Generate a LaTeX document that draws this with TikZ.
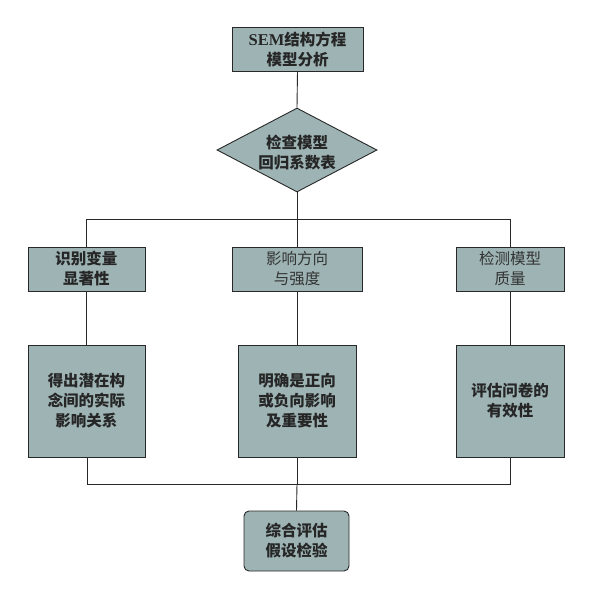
\documentclass[tikz,border=0pt]{standalone}
\usepackage{fontspec}
\setmainfont{Liberation Serif}
\newfontfamily\cjk{Noto Sans CJK SC}
\usetikzlibrary{shapes.geometric}
\definecolor{boxfill}{RGB}{158,180,180}
\definecolor{linec}{RGB}{40,40,40}
\tikzset{
  base/.style={draw=linec, line width=0.9pt, fill=boxfill, inner sep=0pt, align=center,
    font=\fontsize{15.5}{20}\selectfont\cjk\bfseries, text=black!85},
  rbox/.style={base, rectangle},
  thinfont/.style={font=\fontsize{15.5}{20}\selectfont\cjk, text=black!80},
  conn/.style={draw=linec, line width=0.9pt},
}
\begin{document}
\begin{tikzpicture}[x=1pt,y=-1pt]
\useasboundingbox (0,0) rectangle (591,598);
% top
\node[rbox, minimum width=131pt, minimum height=44pt] (top) at (297.5,49) {{\rmfamily\bfseries\fontsize{16.5}{20}\selectfont SEM}结构方程\\模型分析};
% diamond
\node[base, diamond, minimum width=160pt, minimum height=84pt] (dia) at (297,150) {};
\node[align=center, font=\fontsize{15.5}{20}\selectfont\cjk\bfseries, text=black!85] (diat) at (297,153) {检查模型\\回归系数表};
% level 2
\node[rbox, minimum width=117pt, minimum height=44pt] (a1) at (86.5,269) {识别变量\\显著性};
\node[rbox, thinfont, minimum width=130pt, minimum height=44pt] (b1) at (297,269) {影响方向\\与强度};
\node[rbox, thinfont, minimum width=108pt, minimum height=44pt] (c1) at (510,269) {检测模型\\质量};
% level 3
\node[rbox, minimum width=117pt, minimum height=112pt] (a2) at (86.5,401) {得出潜在构\\念间的实际\\影响关系};
\node[rbox, minimum width=118pt, minimum height=112pt] (b2) at (297,401) {明确是正向\\或负向影响\\及重要性};
\node[rbox, minimum width=108pt, minimum height=112pt] (c2) at (510,401) {评估问卷的\\有效性};
% bottom
\node[rbox, rounded corners=5pt, minimum width=105pt, minimum height=60pt] (fin) at (296.5,541) {综合评估\\假设检验};
% junctions
\coordinate (jt) at (297,219);
\coordinate (jtl) at (86,219);
\coordinate (jtr) at (510,219);
\coordinate (jb) at (297,484);
\coordinate (jbl) at (87,484);
\coordinate (jbr) at (510,484);
% connectors
\draw[conn] (top.south) -- (dia.north);
\draw[conn] (dia.south) -- (jt);
\draw[conn] (jtl) -- (jtr);
\draw[conn] (jtl) -- (jtl |- a1.north);
\draw[conn] (jt) -- (b1.north);
\draw[conn] (jtr) -- (jtr |- c1.north);
\draw[conn] (a1.south) -- (a2.north);
\draw[conn] (b1.south) -- (b2.north);
\draw[conn] (c1.south) -- (c2.north);
\draw[conn] (jbl |- a2.south) -- (jbl) -- (jbr) -- (jbr |- c2.south);
\draw[conn] (b2.south) -- (jb);
\draw[conn] (jb) -- (fin.north);
\end{tikzpicture}
\end{document}
